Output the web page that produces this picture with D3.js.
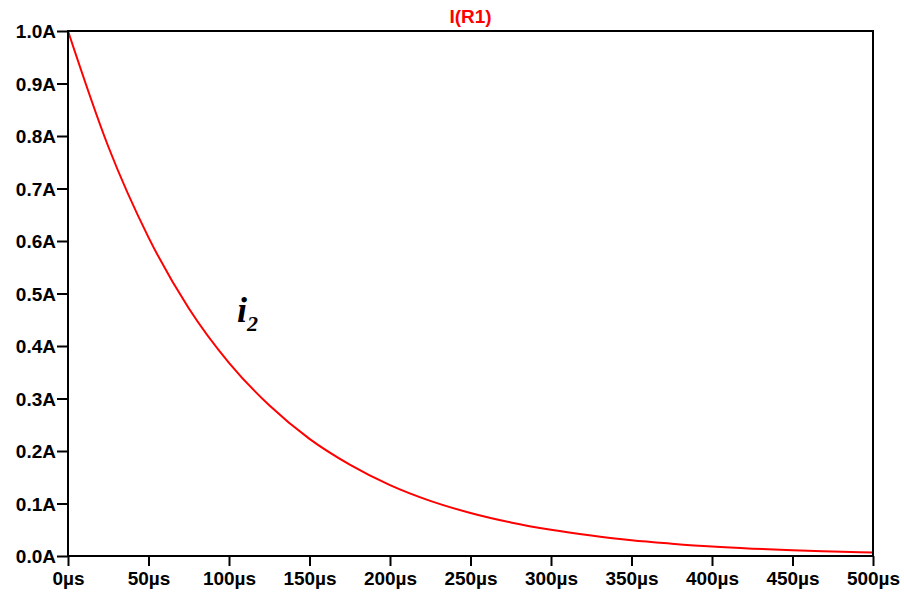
<!DOCTYPE html>
<html>
<head>
<meta charset="utf-8">
<script src="https://cdn.jsdelivr.net/npm/d3@7"></script>
<style>
  body { margin: 0; background: #fff; }
  .axis text { font-family: "Liberation Sans", Arial, sans-serif; font-weight: bold; font-size: 19px; fill: #000; }
</style>
</head>
<body>
<script>
// time points (µs) and current (A)
const times = [0, 25, 50, 75, 100, 125, 150, 175, 200, 225, 250, 275, 300, 325, 350, 375, 400, 425, 450, 475, 500]
const current = [1.0, 0.78, 0.607, 0.472, 0.368, 0.287, 0.223, 0.174, 0.135, 0.105, 0.082, 0.064, 0.050, 0.039, 0.030, 0.0235, 0.018, 0.014, 0.011, 0.0087, 0.0067]
const xTicks = [0, 50, 100, 150, 200, 250, 300, 350, 400, 450, 500]
const yTicks = [0, 0.1, 0.2, 0.3, 0.4, 0.5, 0.6, 0.7, 0.8, 0.9, 1.0]
const traceName = 'I(R1)'

const margin = { top: 31, right: 31, bottom: 39, left: 68 }
const width = 904 - margin.left - margin.right
const height = 595 - margin.top - margin.bottom

const svg = d3.select('body').append('svg')
    .attr('width', 904)
    .attr('height', 595)
const g = svg.append('g')
    .attr('transform', `translate(${margin.left},${margin.top})`)

const xScale = d3.scaleLinear().domain([0, 500]).range([0, width])
const yScale = d3.scaleLinear().domain([0, 1]).range([height, 0])

const xAxis = d3.axisBottom(xScale)
    .tickValues(xTicks)
    .tickSize(10)
    .tickPadding(6)
    .tickFormat(d => d + 'µs')
const yAxis = d3.axisLeft(yScale)
    .tickValues(yTicks)
    .tickSize(11)
    .tickPadding(1)
    .tickFormat(d => d.toFixed(1) + 'A')

g.append('g')
    .attr('class', 'x axis')
    .attr('transform', `translate(0,${height})`)
    .call(xAxis)
g.append('g')
    .attr('class', 'y axis')
    .call(yAxis)
g.selectAll('.axis path').remove()
g.selectAll('.axis line').attr('stroke', '#000').attr('stroke-width', 2)
g.selectAll('.y.axis text').attr('dy', '0.36em')

const data = times.map((t, i) => ({ t, v: current[i] }))
const line = d3.line()
    .x(d => xScale(d.t))
    .y(d => yScale(d.v))
    .curve(d3.curveMonotoneX)

g.append('path')
    .datum(data)
    .attr('fill', 'none')
    .attr('stroke', '#ff0000')
    .attr('stroke-width', 2)
    .attr('d', line)

// frame
g.append('rect')
    .attr('width', width)
    .attr('height', height)
    .attr('fill', 'none')
    .attr('stroke', '#000')
    .attr('stroke-width', 2)

svg.append('text')
    .attr('x', margin.left + width / 2)
    .attr('y', 23)
    .attr('text-anchor', 'middle')
    .attr('font-family', '"Liberation Sans", Arial, sans-serif')
    .attr('font-weight', 'bold')
    .attr('font-size', 19)
    .attr('fill', '#ff0000')
    .text(traceName)

const label = svg.append('text')
    .attr('x', 237)
    .attr('y', 322)
    .attr('font-family', '"Liberation Serif", "Times New Roman", serif')
    .attr('font-weight', 'bold')
    .attr('font-style', 'italic')
    .attr('font-size', 36)
    .attr('fill', '#000')
label.append('tspan').text('i')
label.append('tspan')
    .attr('font-size', 22)
    .attr('dy', 9)
    .text('2')
</script>
</body>
</html>
